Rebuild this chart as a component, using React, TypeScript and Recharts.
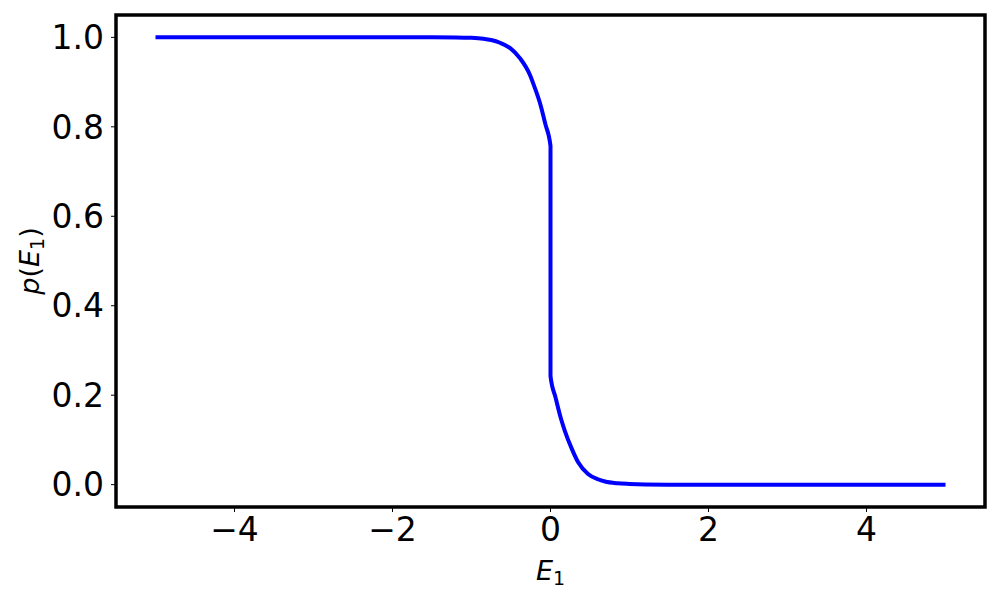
import { LineChart, Line, XAxis, YAxis, ReferenceArea } from 'recharts';

// E1 sample positions and p(E1)
const e1Values = [-5, -4, -3, -2, -1.5, -1.2, -1.0, -0.85, -0.75, -0.64, -0.51, -0.385, -0.26, -0.196, -0.13, -0.065, 0,
  0, 0.065, 0.13, 0.18, 0.27, 0.35, 0.475, 0.6, 0.69, 0.85, 1.0, 1.2, 1.5, 2, 3, 4, 5];
const pValues = [1, 1, 1, 1, 1, 0.9998, 0.999, 0.997, 0.994, 0.988, 0.976, 0.953, 0.916, 0.886, 0.851, 0.806, 0.757,
  0.243, 0.194, 0.149, 0.121, 0.08, 0.05, 0.024, 0.012, 0.007, 0.003, 0.0015, 0.0004, 0, 0, 0, 0, 0];

const xTicks = [-4, -2, 0, 2, 4];
const yTicks = [0, 0.2, 0.4, 0.6, 0.8, 1.0];

const data = e1Values.map((e, i) => ({ e1: e, p: pValues[i] }));

const font = 'DejaVu Sans, sans-serif';
const minus = (v: number) => String(v).replace('-', '\u2212');

function XLabel(props: any) {
  const { viewBox } = props;
  const cx = viewBox.x + viewBox.width / 2;
  return (
    <text x={cx} y={580} textAnchor="middle" fontFamily={font} fontSize={27} fill="#000">
      <tspan fontStyle="italic">E</tspan>
      <tspan fontSize={19} dy={5}>1</tspan>
    </text>
  );
}

function YLabel(props: any) {
  const { viewBox } = props;
  const cy = viewBox.y + viewBox.height / 2;
  return (
    <text x={0} y={0} transform={`translate(39, ${cy}) rotate(-90)`} textAnchor="middle" fontFamily={font} fontSize={27} fill="#000">
      <tspan fontStyle="italic">p</tspan>
      <tspan>(</tspan>
      <tspan fontStyle="italic">E</tspan>
      <tspan fontSize={19} dy={5}>1</tspan>
      <tspan dy={-5}>)</tspan>
    </text>
  );
}

export default function App() {
  return (
    <div style={{ position: 'absolute', left: 0, top: 0, background: '#fff' }}>
      <LineChart width={1000} height={600} data={data} margin={{ top: 15, right: 15, bottom: 0, left: 0 }}>
        <XAxis
          dataKey="e1"
          type="number"
          domain={[-5.5, 5.5]}
          ticks={xTicks}
          tickFormatter={minus}
          height={93}
          allowDuplicatedCategory={true}
          axisLine={false}
          tickLine={{ stroke: '#000', strokeWidth: 1 }}
          tickSize={5}
          tickMargin={6}
          tick={{ fontFamily: font, fontSize: 33, fill: '#000' }}
          label={<XLabel />}
        />
        <YAxis
          type="number"
          domain={[-0.05, 1.05]}
          ticks={yTicks}
          tickFormatter={(v: number) => v.toFixed(1)}
          width={116}
          axisLine={false}
          tickLine={{ stroke: '#000', strokeWidth: 1 }}
          tickSize={5}
          tickMargin={7}
          tick={{ fontFamily: font, fontSize: 33, fill: '#000' }}
          label={<YLabel />}
        />
        <Line
          type="monotone"
          dataKey="p"
          stroke="#0000ff"
          strokeWidth={4}
          dot={false}
          isAnimationActive={false}
        />
        <ReferenceArea x1={-5.5} x2={5.5} y1={-0.05} y2={1.05} fill="none" stroke="#000" strokeWidth={3.5} ifOverflow="visible" />
      </LineChart>
    </div>
  );
}
